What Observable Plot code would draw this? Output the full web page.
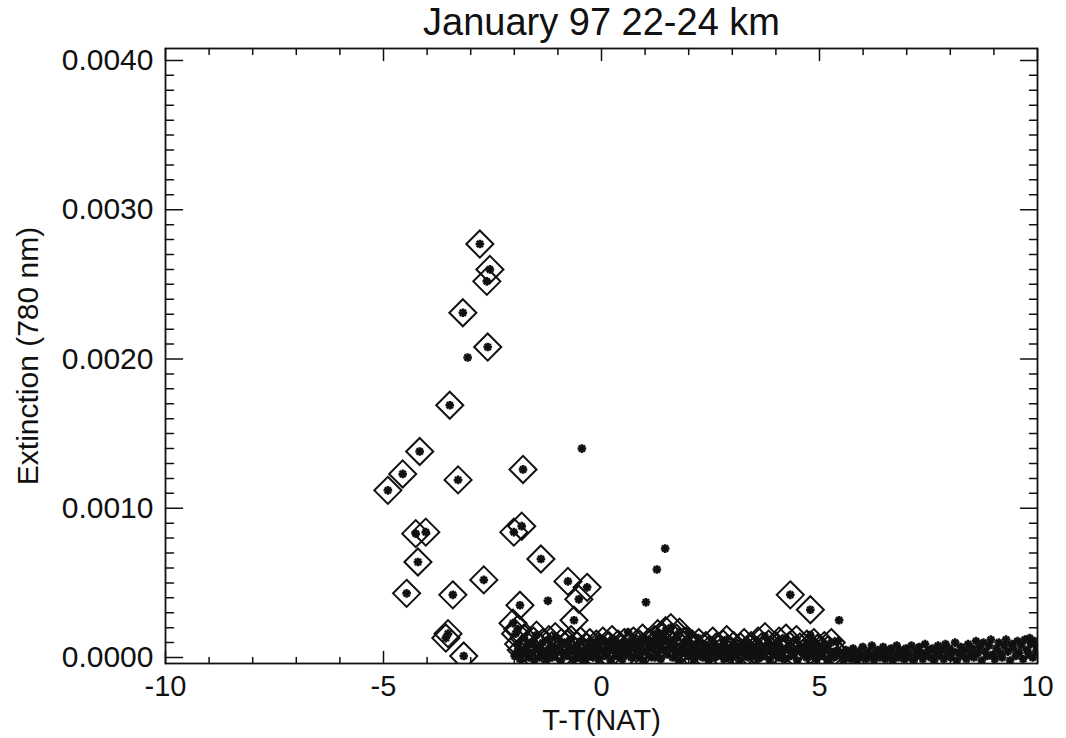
<!DOCTYPE html>
<html>
<head>
<meta charset="utf-8">
<script src="https://cdn.jsdelivr.net/npm/d3@7"></script>
<script src="https://cdn.jsdelivr.net/npm/@observablehq/plot@0.6"></script>
<style>
  html, body { margin: 0; padding: 0; background: #fff; }
  svg { display: block; }
</style>
</head>
<body>
<div id="chart"></div>
<script>
// ---- text ----
const title = "January 97 22-24 km";
const xLabel = "T-T(NAT)";
const yLabel = "Extinction (780 nm)";

// ---- axes ----
const xDomain = [-10, 10];
const yDomain = [-0.00004, 0.00408];
const xTickValues = [-10, -5, 0, 5, 10];
const xTickLabels = ["-10", "-5", "0", "5", "10"];
const xMinorValues = [-9, -8, -7, -6, -4, -3, -2, -1, 1, 2, 3, 4, 6, 7, 8, 9];
const yTickValues = [0, 0.001, 0.002, 0.003, 0.004];
const yTickLabels = ["0.0000", "0.0010", "0.0020", "0.0030", "0.0040"];
const yMinorValues = [
  0.0001, 0.0002, 0.0003, 0.0004, 0.0005, 0.0006, 0.0007, 0.0008, 0.0009,
  0.0011, 0.0012, 0.0013, 0.0014, 0.0015, 0.0016, 0.0017, 0.0018, 0.0019,
  0.0021, 0.0022, 0.0023, 0.0024, 0.0025, 0.0026, 0.0027, 0.0028, 0.0029,
  0.0031, 0.0032, 0.0033, 0.0034, 0.0035, 0.0036, 0.0037, 0.0038, 0.0039
];

// ---- samples flagged as PSC (marked with a diamond), [T-T(NAT), extinction] ----
const pscPoints = [
  [-2.79, 0.00277], [-2.56, 0.00260], [-2.63, 0.00252], [-3.18, 0.00231],
  [-2.61, 0.00208], [-3.48, 0.00169], [-4.17, 0.00138], [-1.80, 0.00126],
  [-4.56, 0.00123], [-4.90, 0.00112], [-3.29, 0.00119], [-4.26, 0.00083],
  [-4.03, 0.00084], [-2.01, 0.00084], [-1.83, 0.00088], [-4.21, 0.00064],
  [-1.39, 0.00066], [-4.47, 0.00043], [-3.41, 0.00042], [-2.70, 0.00052],
  [-0.77, 0.00051], [-0.33, 0.00047], [-0.52, 0.00039], [-1.87, 0.00035],
  [-0.63, 0.00025], [-2.03, 0.00023], [-1.92, 0.00019], [-3.52, 0.00016],
  [-3.57, 0.00013], [-3.16, 0.00001], [4.33, 0.00042], [4.79, 0.00032]
];

// flagged samples lying in the low-extinction band
const pscBand = [
  [-1.97, 0.00016], [-1.90, 0.00009], [-1.84, 0.00005], [-1.78, 0.00013],
  [-1.70, 0.00008], [-1.63, 0.00003], [-1.56, 0.00011], [-1.49, 0.00015],
  [-1.42, 0.00007], [-1.35, 0.00010], [-1.28, 0.00004], [-1.21, 0.00012],
  [-1.14, 0.00008], [-1.06, 0.00014], [-0.99, 0.00006], [-0.92, 0.00010],
  [-0.85, 0.00003], [-0.78, 0.00009], [-0.70, 0.00012], [-0.63, 0.00005],
  [-0.56, 0.00008], [-0.48, 0.00011], [-0.41, 0.00004], [-0.34, 0.00007],
  [-0.27, 0.00010], [-0.20, 0.00003], [-0.12, 0.00009], [-0.05, 0.00006],
  [0.03, 0.00011], [0.10, 0.00004], [0.17, 0.00008], [0.24, 0.00012],
  [0.31, 0.00005], [0.38, 0.00009], [0.45, 0.00006], [0.52, 0.00010],
  [0.59, 0.00003], [0.66, 0.00008], [0.73, 0.00011], [0.80, 0.00006],
  [0.87, 0.00009], [0.94, 0.00013], [1.01, 0.00005], [1.08, 0.00010],
  [1.15, 0.00007], [1.22, 0.00012], [1.29, 0.00016], [1.35, 0.00009],
  [1.41, 0.00014], [1.47, 0.00018], [1.53, 0.00011], [1.59, 0.00020],
  [1.65, 0.00008], [1.72, 0.00013], [1.79, 0.00017], [1.86, 0.00006],
  [1.93, 0.00011], [2.00, 0.00004], [2.08, 0.00009], [2.15, 0.00006],
  [2.23, 0.00010], [2.31, 0.00003], [2.39, 0.00008], [2.47, 0.00005],
  [2.55, 0.00011], [2.63, 0.00007], [2.71, 0.00003], [2.79, 0.00009],
  [2.87, 0.00012], [2.95, 0.00005], [3.03, 0.00008], [3.11, 0.00003],
  [3.19, 0.00007], [3.27, 0.00010], [3.35, 0.00004], [3.43, 0.00008],
  [3.51, 0.00005], [3.59, 0.00011], [3.67, 0.00007], [3.75, 0.00014],
  [3.83, 0.00009], [3.91, 0.00004], [3.99, 0.00008], [4.07, 0.00011],
  [4.15, 0.00006], [4.23, 0.00013], [4.31, 0.00008], [4.39, 0.00004],
  [4.47, 0.00012], [4.55, 0.00007], [4.63, 0.00003], [4.71, 0.00009],
  [4.79, 0.00005], [4.87, 0.00010], [4.95, 0.00006], [5.03, 0.00003],
  [5.11, 0.00008], [5.19, 0.00005], [5.27, 0.00010], [5.35, 0.00004]
];

// ---- remaining samples (asterisk only) ----
const otherScatter = [
  [-3.07, 0.00201], [-0.45, 0.00140], [1.46, 0.00073], [1.27, 0.00059],
  [1.02, 0.00037], [-1.23, 0.00038], [-0.06, 0.00013], [0.61, 0.00017],
  [5.45, 0.00025], [4.79, 0.00015], [5.43, 0.00011], [9.82, 0.00013],
  [1.99, 0.00017], [2.22, 0.00013]
];

const otherBand = [
  [-1.99, 0.00001], [-1.93, 0.00004], [-1.87, -0.00001], [-1.81, 0.00002],
  [-1.74, 0.00005], [-1.67, 0.00000], [-1.61, 0.00003], [-1.54, -0.00002],
  [-1.47, 0.00006], [-1.41, 0.00001], [-1.34, 0.00003], [-1.27, -0.00001],
  [-1.20, 0.00005], [-1.13, 0.00000], [-1.07, 0.00002], [-1.00, 0.00004],
  [-0.93, -0.00002], [-0.87, 0.00003], [-0.80, 0.00001], [-0.73, 0.00005],
  [-0.66, -0.00001], [-0.60, 0.00003], [-0.53, 0.00000], [-0.46, 0.00004],
  [-0.39, -0.00002], [-0.33, 0.00002], [-0.26, 0.00005], [-0.19, 0.00000],
  [-0.13, 0.00003], [-0.06, -0.00001], [0.01, 0.00005], [0.07, 0.00001],
  [0.14, 0.00003], [0.21, -0.00002], [0.28, 0.00006], [0.34, 0.00001],
  [0.41, 0.00004], [0.48, -0.00001], [0.55, 0.00002], [0.61, 0.00005],
  [0.68, 0.00000], [0.75, 0.00007], [0.82, 0.00001], [0.88, 0.00003],
  [0.95, -0.00002], [1.02, 0.00004], [1.09, 0.00001], [1.16, 0.00006],
  [1.22, 0.00000], [1.29, 0.00003], [1.36, -0.00001], [1.43, 0.00005],
  [1.50, 0.00002], [1.56, 0.00007], [1.63, 0.00000], [1.70, 0.00004],
  [1.77, -0.00002], [1.84, 0.00003], [1.90, 0.00006], [1.97, 0.00001],
  [2.04, 0.00004], [2.11, -0.00001], [2.18, 0.00002], [2.25, 0.00005],
  [2.32, 0.00000], [2.39, 0.00003], [2.46, -0.00002], [2.53, 0.00004],
  [2.60, 0.00006], [2.67, 0.00001], [2.74, 0.00003], [2.81, -0.00001],
  [2.88, 0.00005], [2.95, 0.00000], [3.02, 0.00002], [3.09, 0.00004],
  [3.16, -0.00002], [3.23, 0.00003], [3.30, 0.00006], [3.37, 0.00000],
  [3.44, 0.00002], [3.51, 0.00005], [3.58, -0.00001], [3.65, 0.00003],
  [3.72, 0.00001], [3.79, 0.00006], [3.86, -0.00002], [3.93, 0.00002],
  [4.00, 0.00004], [4.07, 0.00000], [4.14, 0.00003], [4.21, -0.00001],
  [4.28, 0.00005], [4.35, 0.00001], [4.42, 0.00003], [4.49, -0.00002],
  [4.56, 0.00004], [4.63, 0.00006], [4.70, 0.00000], [4.77, 0.00002],
  [4.84, 0.00005], [4.91, -0.00001], [4.98, 0.00003], [5.05, 0.00001],
  [5.12, 0.00005], [5.19, -0.00002], [5.26, 0.00003], [5.33, 0.00000],
  [5.40, 0.00004], [5.47, 0.00001],
  [5.52, 0.00002], [5.55, -0.00002], [5.60, 0.00005], [5.64, 0.00000],
  [5.68, 0.00003], [5.73, -0.00001], [5.77, 0.00006], [5.81, 0.00001],
  [5.86, -0.00002], [5.90, 0.00004], [5.94, 0.00000], [5.99, 0.00007],
  [6.03, 0.00002], [6.07, -0.00001], [6.12, 0.00004], [6.16, 0.00001],
  [6.20, 0.00008], [6.25, -0.00002], [6.29, 0.00003], [6.33, 0.00005],
  [6.38, 0.00000], [6.42, 0.00002], [6.46, 0.00007], [6.51, -0.00001],
  [6.55, 0.00004], [6.59, 0.00001], [6.64, 0.00006], [6.68, -0.00002],
  [6.72, 0.00003], [6.77, 0.00008], [6.81, 0.00000], [6.85, 0.00005],
  [6.90, 0.00002], [6.94, -0.00001], [6.98, 0.00006], [7.03, 0.00003],
  [7.07, 0.00000], [7.11, 0.00008], [7.16, -0.00002], [7.20, 0.00004],
  [7.24, 0.00001], [7.29, 0.00007], [7.33, 0.00003], [7.37, -0.00001],
  [7.42, 0.00009], [7.46, 0.00002], [7.50, 0.00005], [7.55, 0.00000],
  [7.59, 0.00006], [7.63, -0.00002], [7.68, 0.00003], [7.72, 0.00008],
  [7.76, 0.00001], [7.81, 0.00005], [7.85, -0.00001], [7.89, 0.00009],
  [7.94, 0.00002], [7.98, 0.00006], [8.02, 0.00000], [8.07, 0.00004],
  [8.11, 0.00010], [8.15, -0.00002], [8.20, 0.00003], [8.24, 0.00007],
  [8.28, 0.00001], [8.33, 0.00005], [8.37, -0.00001], [8.41, 0.00009],
  [8.46, 0.00002], [8.50, 0.00006], [8.54, 0.00000], [8.59, 0.00011],
  [8.63, 0.00003], [8.67, 0.00007], [8.72, -0.00002], [8.76, 0.00010],
  [8.80, 0.00004], [8.85, 0.00001], [8.89, 0.00008], [8.93, 0.00012],
  [8.98, 0.00002], [9.02, -0.00001], [9.06, 0.00006], [9.11, 0.00010],
  [9.15, 0.00003], [9.19, 0.00000], [9.24, 0.00008], [9.28, 0.00012],
  [9.32, 0.00004], [9.37, -0.00002], [9.41, 0.00009], [9.45, 0.00006],
  [9.50, 0.00001], [9.54, 0.00011], [9.58, 0.00003], [9.63, 0.00008],
  [9.67, -0.00001], [9.71, 0.00012], [9.76, 0.00005], [9.80, 0.00002],
  [9.85, 0.00009], [9.89, 0.00000], [9.93, 0.00011], [9.97, 0.00004],
  [9.99, 0.00007]
];

const flagged = pscPoints.concat(pscBand);
const allSamples = flagged.concat(otherScatter, otherBand);

// straight tick stroke for Plot.vector
const tickShape = {
  draw(context, length) {
    context.moveTo(0, 0);
    context.lineTo(0, -length);
  }
};

const ink = "#111";
const font = "'Liberation Sans', Arial, Helvetica, sans-serif";

// inward ticks on one side of the frame
function ticks(values, side, length) {
  const horizontal = side === "top" || side === "bottom";
  const rotate = {bottom: 0, top: 180, left: 90, right: -90}[side];
  return Plot.vector(values, {
    [horizontal ? "x" : "y"]: (d) => d,
    frameAnchor: side,
    length,
    rotate,
    anchor: "start",
    shape: tickShape,
    stroke: ink,
    strokeWidth: 1.5
  });
}

const chart = Plot.plot({
  width: 1066,
  height: 738,
  marginLeft: 165,
  marginRight: 29,
  marginTop: 48,
  marginBottom: 75,
  x: {domain: xDomain, axis: null},
  y: {domain: yDomain, axis: null},
  style: {fontFamily: font, background: "white", color: ink},
  marks: [
    // diamonds around flagged samples
    Plot.dot(flagged, {
      x: (d) => d[0], y: (d) => d[1],
      symbol: "diamond2", r: 12.2, stroke: ink, strokeWidth: 2, fill: "none",
      clip: true
    }),
    // asterisks (plus over times) for every sample
    Plot.dot(allSamples, {
      x: (d) => d[0], y: (d) => d[1],
      symbol: "plus", r: 2.9, stroke: ink, strokeWidth: 2.5, clip: true
    }),
    Plot.dot(allSamples, {
      x: (d) => d[0], y: (d) => d[1],
      symbol: "times", r: 2.9, stroke: ink, strokeWidth: 2.5, clip: true
    }),

    // box and ticks
    Plot.frame({stroke: ink, strokeWidth: 1.8}),
    ticks(xTickValues, "bottom", 12),
    ticks(xTickValues, "top", 12),
    ticks(xMinorValues, "bottom", 6),
    ticks(xMinorValues, "top", 6),
    ticks(yTickValues, "left", 17),
    ticks(yTickValues, "right", 17),
    ticks(yMinorValues, "left", 8),
    ticks(yMinorValues, "right", 8),

    // tick labels
    Plot.text(xTickValues, {
      x: (d) => d, text: (d, i) => xTickLabels[i],
      frameAnchor: "bottom", dy: 23, lineAnchor: "middle",
      fontSize: 29, fill: ink
    }),
    Plot.text(yTickValues, {
      y: (d) => d, text: (d, i) => yTickLabels[i],
      frameAnchor: "left", dx: -12, textAnchor: "end", lineAnchor: "middle",
      fontSize: 30, fill: ink
    }),

    // titles
    Plot.text([title], {
      frameAnchor: "top", dy: -26, lineAnchor: "middle", fontSize: 38, fill: ink
    }),
    Plot.text([xLabel], {
      frameAnchor: "bottom", dy: 57, lineAnchor: "middle", fontSize: 29, fill: ink
    }),
    Plot.text([yLabel], {
      frameAnchor: "left", dx: -137, rotate: -90,
      textAnchor: "middle", lineAnchor: "middle",
      fontSize: 30, fill: ink
    })
  ]
});

document.getElementById("chart").appendChild(chart);
</script>
</body>
</html>
